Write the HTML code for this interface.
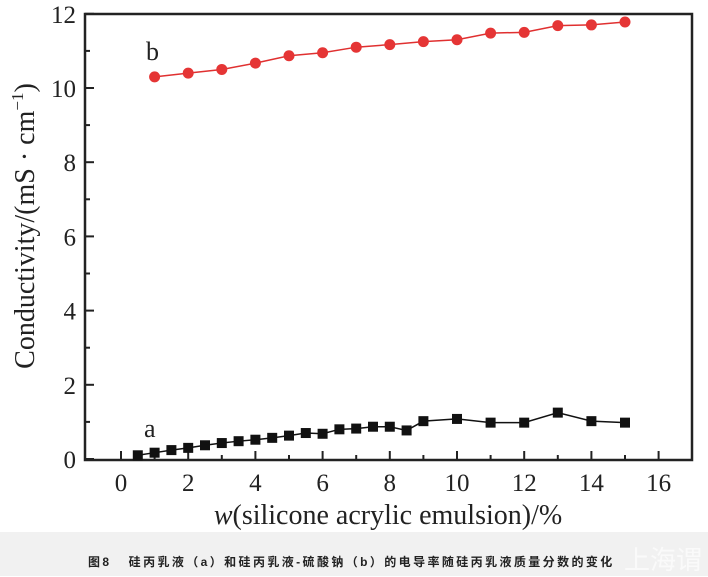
<!DOCTYPE html>
<html><head><meta charset="utf-8"><style>
body{margin:0;width:708px;height:576px;background:#fff;overflow:hidden;position:relative}
svg{position:absolute;left:0;top:0}
.cap{position:absolute;left:0;top:532px;width:708px;height:44px;background:#f1f1f1}
.cap span{position:absolute;left:88px;top:21px;font:bold 12px "Liberation Sans","Noto Sans CJK SC",sans-serif;letter-spacing:2.4px;color:#222;white-space:nowrap}
.wm{position:absolute;left:624px;top:8px;font:26px "Noto Sans CJK SC",sans-serif;color:#fafafa;white-space:nowrap}
</style></head><body>
<svg width="708" height="532" font-family="Liberation Serif,serif">
<rect x="85" y="14" width="607" height="446" fill="none" stroke="#222" stroke-width="2.5"/>
<g id="t" stroke="#222" stroke-width="2"></g>
<g font-size="25" fill="#222" text-anchor="end" id="yl"></g>
<g font-size="25" fill="#222" text-anchor="middle" id="xl"></g>
<text x="388" y="524" font-size="28" text-anchor="middle" fill="#222"><tspan font-style="italic">w</tspan>(silicone acrylic emulsion)/%</text>
<text transform="translate(34,226) rotate(-90)" font-size="28" text-anchor="middle" fill="#222">Conductivity/(mS · cm<tspan dy="-11" font-size="17">−1</tspan><tspan dy="11">)</tspan></text>
<text x="146" y="60" font-size="26" fill="#222">b</text>
<text x="144" y="437" font-size="26" fill="#222">a</text>
<polyline id="pb" fill="none" stroke="#e03030" stroke-width="1.5"/>
<polyline id="pa" fill="none" stroke="#111" stroke-width="1.5"/>
<g id="mb" fill="#e53535"></g><g id="ma" fill="#111"></g>
</svg>
<div class="cap"><span>图8&nbsp;&nbsp;&nbsp;硅丙乳液（a）和硅丙乳液-硫酸钠（b）的电导率随硅丙乳液质量分数的变化</span><div class="wm">上海谓</div></div>
<script>
const X=v=>121+33.6*v,Y=v=>459-37.1*v,NS="http://www.w3.org/2000/svg";
function el(p,n,a){const e=document.createElementNS(NS,n);for(const k in a)e.setAttribute(k,a[k]);document.getElementById(p).appendChild(e);return e}
for(let v=0;v<=16;v++){const x=X(v);el("t","line",{x1:x,y1:460,x2:x,y2:460-(v%2?5:9)});if(v%2==0){el("xl","text",{x:x,y:491}).textContent=v}}
for(let v=0;v<=12;v++){const y=Y(v);el("t","line",{x1:85,y1:y,x2:85+(v%2?5:9),y2:y});if(v%2==0){el("yl","text",{x:76,y:y+9}).textContent=v}}
const b=[10.3,10.4,10.5,10.67,10.87,10.95,11.1,11.17,11.25,11.3,11.48,11.5,11.68,11.7,11.78];
const ax=[0.5,1,1.5,2,2.5,3,3.5,4,4.5,5,5.5,6,6.5,7,7.5,8,8.5,9,10,11,12,13,14,15];
const ay=[0.1,0.17,0.24,0.3,0.37,0.43,0.48,0.52,0.57,0.63,0.7,0.68,0.8,0.82,0.87,0.87,0.77,1.02,1.08,0.98,0.98,1.25,1.02,0.98];
let pb=[],pa=[];
b.forEach((v,i)=>{pb.push(X(i+1)+","+Y(v));el("mb","circle",{cx:X(i+1),cy:Y(v),r:5.5})});
ax.forEach((x,i)=>{pa.push(X(x)+","+Y(ay[i]));el("ma","rect",{x:X(x)-5,y:Y(ay[i])-5,width:10,height:10})});
document.getElementById("pb").setAttribute("points",pb.join(" "));
document.getElementById("pa").setAttribute("points",pa.join(" "));
</script>
</body></html>
